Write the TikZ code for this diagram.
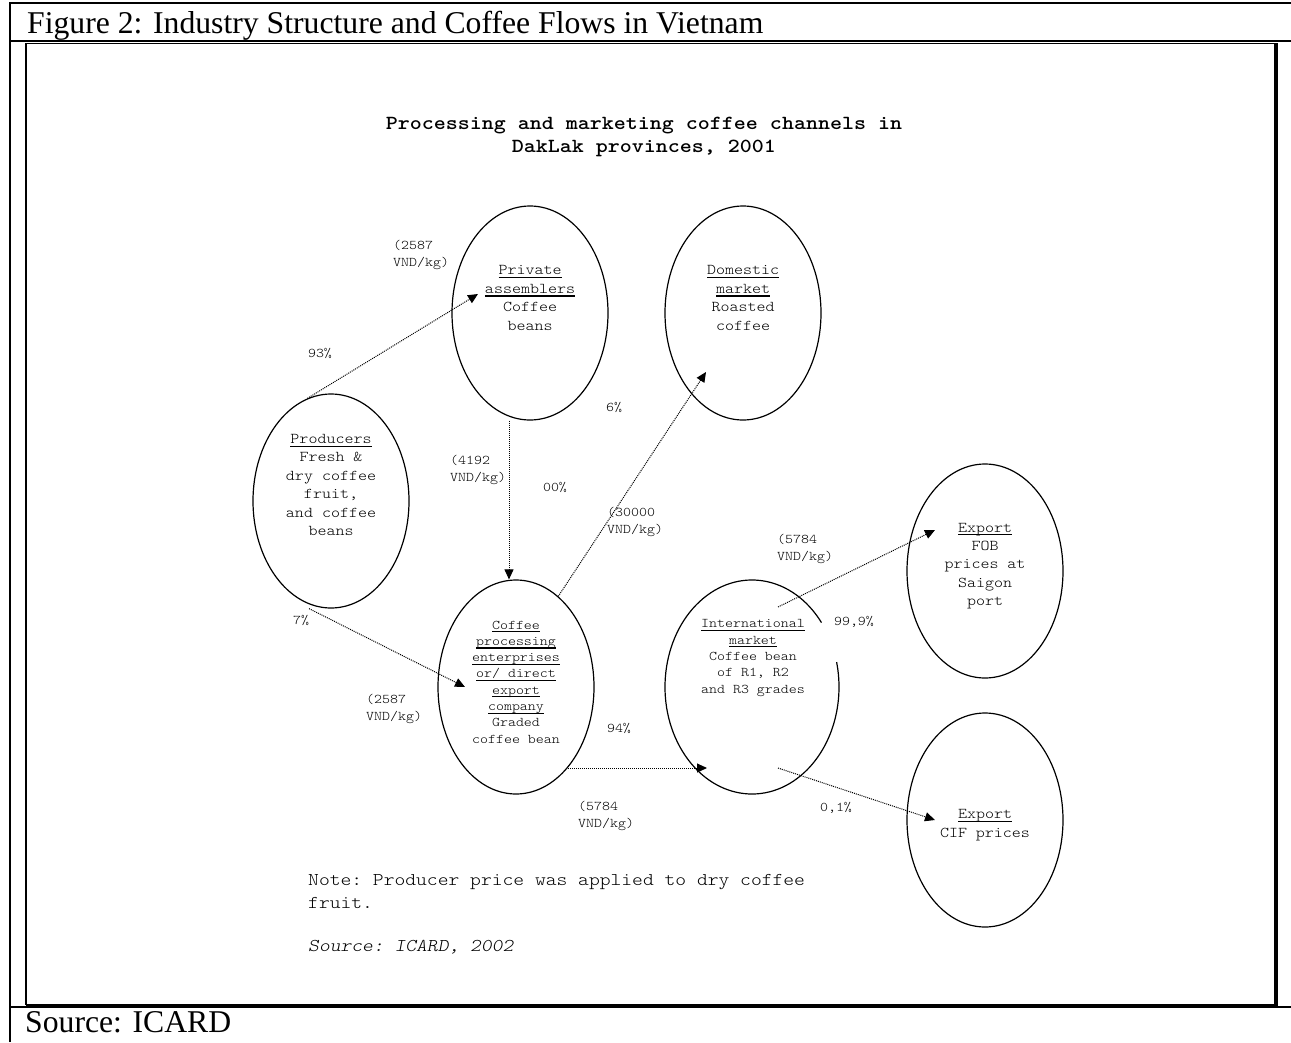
\documentclass[tikz,border=0pt]{standalone}
\usepackage{fontspec}
\setmainfont{Liberation Serif}
\setmonofont[Extension=.otf,UprightFont=*-regular,BoldFont=*-bold,ItalicFont=*-oblique,BoldItalicFont=*-boldoblique,FakeStretch=1.143]{lmmonolt10}
\usetikzlibrary{shapes.geometric,arrows.meta}
\newcommand{\uln}[1]{\setbox0\hbox{#1}\rlap{\rule[-3.2pt]{\wd0}{1.1pt}}\box0}

\begin{document}
\begin{tikzpicture}[x=1pt,y=-1pt,
  blob/.style={draw,ellipse,line width=1.2pt,minimum width=156pt,minimum height=214pt,inner sep=0pt},
  bigtxt/.style={align=center,inner sep=0pt,font=\ttfamily\fontsize{15}{18.4}\selectfont},
  smalltxt/.style={align=center,inner sep=0pt,font=\ttfamily\fontsize{13.3}{16.3}\selectfont},
  lab/.style={align=left,anchor=west,inner sep=0pt,font=\ttfamily\fontsize{13.3}{17}\selectfont},
  pct/.style={inner sep=0pt,font=\ttfamily\fontsize{13.3}{16}\selectfont},
  flow/.style={-{Triangle[length=10pt,width=9pt]},line width=1pt,dash pattern=on 1pt off 1pt}]
  \useasboundingbox (0,0) rectangle (1291,1042);
  \fill[white] (0,0) rectangle (1291,1042);
  % table frame
  \draw[line width=1.5pt] (10,1042) -- (10,3) -- (1291,3);
  \draw[line width=1.5pt] (10,41) -- (1291,41);
  \draw[line width=1.5pt] (10,1007) -- (1291,1007);
  \draw[line width=1.7pt] (1276,43.5) -- (26,43.5) -- (26,1005);
  \draw[line width=4pt] (26,1005.5) -- (1276,1005.5) -- (1276,42.6);
  \node[anchor=base west,inner sep=0pt,font=\fontsize{31.7}{38}\selectfont] (cap) at (27,33) {Figure 2: Industry Structure and Coffee Flows in Vietnam};
  \node[anchor=base west,inner sep=0pt,font=\fontsize{31.7}{38}\selectfont] (capsrc) at (25,1032) {Source: ICARD};

  \node[align=center,inner sep=0pt,font=\ttfamily\bfseries\fontsize{20}{23}\selectfont] (title) at (644,137) {Processing and marketing coffee channels in\\DakLak provinces, 2001};

  \node[blob] (prod) at (331,501) {};
  \node[blob] (priv) at (530,313) {};
  \node[blob] (dom) at (743,313) {};
  \node[blob] (proc) at (516,687) {};
  \node[blob,draw=none,minimum width=174pt] (intl) at (752,687) {};
  \draw[line width=1.2pt] ([shift={(37:87pt and 107pt)}]intl.center) arc[start angle=37,end angle=373.5,x radius=87pt,y radius=107pt];
  \node[blob] (fob) at (985,571) {};
  \node[blob] (cif) at (985,820) {};

  \node[bigtxt] (prodtxt) at (331,485) {\uln{Producers}\\Fresh \&\\dry coffee\\fruit,\\and coffee\\beans};
  \node[bigtxt] (privtxt) at (530,298) {\uln{Private}\\\uln{assemblers}\\Coffee\\beans};
  \node[bigtxt] (domtxt) at (743,298) {\uln{Domestic}\\\uln{market}\\Roasted\\coffee};
  \node[smalltxt] (proctxt) at (516,682) {\uln{Coffee}\\\uln{processing}\\\uln{enterprises}\\\uln{or/ direct}\\\uln{export}\\\uln{company}\\Graded\\coffee bean};
  \node[smalltxt] (intltxt) at (753,658) {\uln{International}\\\uln{market}\\Coffee bean\\of R1, R2\\and R3 grades};
  \node[bigtxt] (fobtxt) at (985,566) {\uln{Export}\\FOB\\prices at\\Saigon\\port};
  \node[bigtxt] (ciftxt) at (985,825) {\uln{Export}\\CIF prices};

  \draw[flow] (prod.103) -- ([xshift=-52pt,yshift=19pt]priv.center);
  \draw[flow] ([xshift=-21pt]priv.south) -- ([xshift=-7pt]proc.north);
  \draw[flow] ([xshift=-22pt]prod.south) -- ([xshift=-51pt]proc.center);
  \draw[flow] (proc.65) -- ([xshift=-37pt,yshift=-59pt]dom.center);
  \draw[flow] ([xshift=52pt,yshift=-81pt]proc.center) -- ([xshift=-45pt,yshift=-81pt]intl.center);
  \draw[flow] ([xshift=26pt,yshift=80pt]intl.center) -- ([xshift=-50pt,yshift=41pt]fob.center);
  \draw[flow] ([xshift=26pt,yshift=-81pt]intl.center) -- ([xshift=-50pt]cif.center);

  \node[lab] (pr1) at (393,255) {(2587\\VND/kg)};
  \node[lab] (pr2) at (450,470) {(4192\\VND/kg)};
  \node[lab] (pr3) at (607,522) {(30000\\VND/kg)};
  \node[lab] (pr4) at (777,549) {(5784\\VND/kg)};
  \node[lab] (pr5) at (366,709) {(2587\\VND/kg)};
  \node[lab] (pr6) at (578,816) {(5784\\VND/kg)};
  \node[pct] (q1) at (320,353) {93\%};
  \node[pct] (q2) at (614,407) {6\%};
  \node[pct] (q3) at (555,487) {00\%};
  \node[pct] (q4) at (301,620) {7\%};
  \node[pct] (q5) at (619,728) {94\%};
  \node[pct] (q6) at (854,622) {99,9\%};
  \node[pct] (q7) at (836,808) {0,1\%};

  \node[align=left,anchor=west,inner sep=0pt,font=\ttfamily\fontsize{18}{23}\selectfont] (note) at (308,891) {Note: Producer price was applied to dry coffee\\fruit.};
  \node[anchor=west,inner sep=0pt,font=\ttfamily\itshape\fontsize{18}{23}\selectfont] (src) at (308,947) {Source: ICARD, 2002};
\end{tikzpicture}
\end{document}
